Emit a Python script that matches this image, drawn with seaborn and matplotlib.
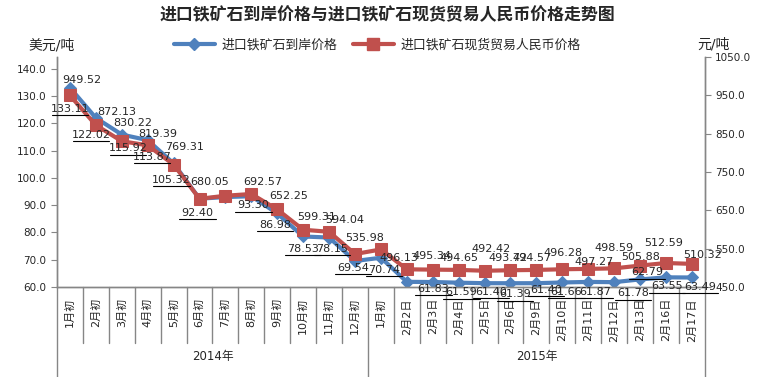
import numpy as np
import pandas as pd
import matplotlib
matplotlib.use("Agg")
import matplotlib.pyplot as plt
import matplotlib.transforms as mtransforms
from matplotlib.lines import Line2D
import seaborn as sns

# Données
categories = ["1月初", "2月初", "3月初", "4月初", "5月初", "6月初", "7月初", "8月初",
              "9月初", "10月初", "11月初", "12月初",
              "1月初", "2月2日", "2月3日", "2月4日", "2月5日", "2月6日", "2月9日",
              "2月10日", "2月11日", "2月12日", "2月13日", "2月16日", "2月17日"]
years = ["2014年", "2015年"]
year_counts = [12, 13]

usd_price = [133.11, 122.02, 115.92, 113.87, 105.32, 92.40, 93.00, 93.30, 86.98,
             78.53, 78.15, 69.54, 70.74, 61.90, 61.83, 61.59, 61.40, 61.39, 61.40,
             61.66, 61.87, 61.78, 62.79, 63.55, 63.49]
cny_price = [949.52, 872.13, 830.22, 819.39, 769.31, 680.05, 688.00, 692.57, 652.25,
             599.31, 594.04, 535.98, 548.00, 496.13, 495.34, 494.65, 492.42, 493.72,
             494.57, 496.28, 497.27, 498.59, 505.88, 512.59, 510.32]
# points sans étiquette sur le graphique d'origine
usd_no_label = [6, 13]
cny_no_label = [6, 12]

usd_name = "进口铁矿石到岸价格"
cny_name = "进口铁矿石现货贸易人民币价格"

# décalages des étiquettes (points typographiques)
usd_dx = [0, -3.5, 4.5, 3, -1.5, -1.5, 0, 1.5, -1.5, 0, 2, -1.5, 2,
          0, 0.5, 2, 4.5, 3.5, 7, 3, 5, 13.5, 5, 0.5, 6]
usd_dy = [-15, -12, -10, -12, -12, -10, 0, -6.5, -8, -9, -8, -5, -9,
          0, -5, -7, -6, -8, -5, -7, -7, -8, 5, -6.5, -7]
cny_dx = [8.5, 15, 8, 7, 8, 7, 0, 8, 8, 10, 11.5, 7, 0,
          -6, -0.5, 0, 4.5, -2, -3, 0.5, 4.5, 0, 0.5, -1.5, 8]
cny_dy = [11, 9.5, 13, 8.5, 12.5, 12, 0, 8.5, 9.5, 9.5, 8.5, 11.5, 0,
          8.5, 9.5, 8.5, 16, 8.5, 8.5, 12, 5, 14.5, 6, 14.5, 6.5]

df = pd.DataFrame({"x": np.arange(len(categories)), "usd": usd_price, "cny": cny_price})

sns.set_style("white")
plt.rcParams["font.family"] = ["DejaVu Sans", "Noto Sans CJK SC"]

blue = "#4F81BD"
red = "#C0504D"
grey = "#868686"

fig, ax = plt.subplots(figsize=(7.62, 3.77), dpi=100)
fig.subplots_adjust(left=0.0748, right=0.925, bottom=0.2387, top=0.849)
ax2 = ax.twinx()

sns.lineplot(data=df, x="x", y="usd", ax=ax, color=blue, linewidth=3, marker="D",
             markersize=6, markeredgecolor=blue, label=usd_name, legend=False)
sns.lineplot(data=df, x="x", y="cny", ax=ax2, color=red, linewidth=3, marker="s",
             markersize=8, markeredgecolor=red, label=cny_name, legend=False)

ax.set_xlim(-0.5, len(categories) - 0.5)
ax.set_ylim(60, 144.4)
ax.set_yticks(np.arange(60, 141, 10))
ax.set_yticklabels([f"{v:.1f}" for v in np.arange(60, 141, 10)])
ax2.set_ylim(450, 1050)
ax2.set_yticks(np.arange(450, 1051, 100))
ax2.set_yticklabels([f"{v:.1f}" for v in np.arange(450, 1051, 100)])
ax.set_xlabel("")
ax.set_ylabel("")
ax2.set_ylabel("")

for a in (ax, ax2):
    for s in a.spines.values():
        s.set_color(grey)
        s.set_linewidth(1)
    a.spines["top"].set_visible(False)
ax.tick_params(axis="y", direction="out", length=4, color=grey, labelsize=7.5, left=True)
ax2.tick_params(axis="y", direction="out", length=4, color=grey, labelsize=7.5, right=True)

# étiquettes de catégories
ax.set_xticks(df["x"])
ax.set_xticklabels(categories, rotation=90, va="top", ha="center", fontsize=8)
ax.tick_params(axis="x", length=0, pad=8)

trans = mtransforms.blended_transform_factory(ax.transData, ax.transAxes)
group_edges = np.cumsum([0] + year_counts) - 0.5
for b in np.arange(-0.5, len(categories), 1.0):
    depth = 0.39 if b in group_edges else 0.243
    ax.add_line(Line2D([b, b], [0, -depth], transform=trans, clip_on=False,
                       color=grey, lw=1))
for k, yr in enumerate(years):
    mid = (group_edges[k] + group_edges[k + 1]) / 2
    ax.text(mid, -0.304, yr, transform=trans, ha="center", va="center", fontsize=8.5)

# étiquettes de données, dessinées sur ax2 pour passer au-dessus des deux courbes
for i, v in enumerate(usd_price):
    if i in usd_no_label:
        continue
    dx, dy = usd_dx[i], usd_dy[i]
    ax2.annotate(f"{v:.2f}", (i, v), xycoords=ax.transData, xytext=(dx, dy),
                 textcoords="offset points", ha="center", va="center", fontsize=8, zorder=5)
    off = mtransforms.ScaledTranslation(0, (dy - 4.5) / 72, fig.dpi_scale_trans)
    cx = i + dx / 72 * 100 / 25.92
    ax2.add_line(Line2D([cx - 0.7, cx + 0.7], [v, v], transform=ax.transData + off,
                        color="black", lw=0.8, clip_on=False, zorder=5))
for i, v in enumerate(cny_price):
    if i in cny_no_label:
        continue
    ax2.annotate(f"{v:.2f}", (i, v), xytext=(cny_dx[i], cny_dy[i]), textcoords="offset points",
                 ha="center", va="center", fontsize=8, zorder=5)

# légende et titres
handles = [Line2D([], [], color=blue, lw=3, marker="D", markersize=6),
           Line2D([], [], color=red, lw=3, marker="s", markersize=8)]
fig.legend(handles, [usd_name, cny_name], loc="center", bbox_to_anchor=(0.495, 0.88),
           ncol=2, frameon=False, fontsize=9.3, handlelength=3.2, columnspacing=1.2,
           handletextpad=0.5)
fig.suptitle("进口铁矿石到岸价格与进口铁矿石现货贸易人民币价格走势图", x=0.508, y=0.96,
             fontsize=12.2, fontweight="bold", va="center")
fig.text(0.037, 0.878, "美元/吨", ha="left", va="center", fontsize=10)
fig.text(0.915, 0.883, "元/吨", ha="left", va="center", fontsize=10)

fig.savefig("out.png", dpi=100)
